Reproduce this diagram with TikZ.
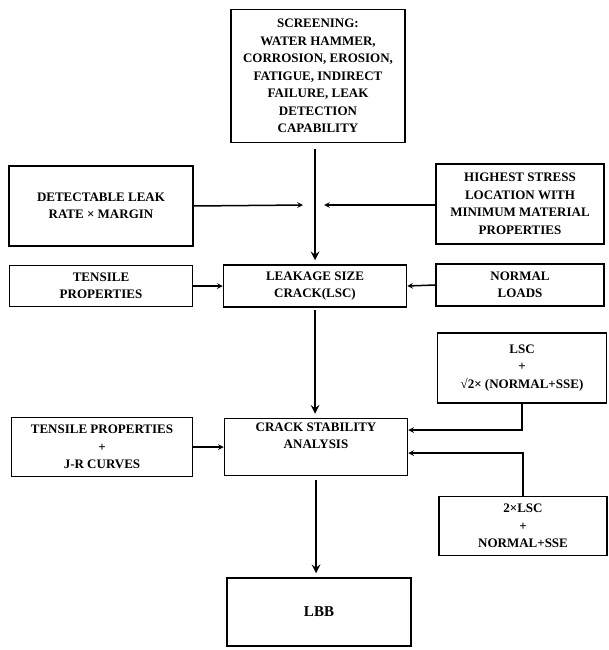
\documentclass[tikz,border=0pt]{standalone}
\usepackage{fontspec}
\setmainfont{Liberation Serif}
\usetikzlibrary{positioning, arrows}

\tikzset{
  box/.style={draw, line width=1.5pt, align=center, inner sep=1pt,
    font=\bfseries\fontsize{13}{17.5}\selectfont},
  flow/.style={->, >=stealth, line width=2.8pt},
  feed/.style={->, >=stealth, line width=1.5pt},
}

\begin{document}
\begin{tikzpicture}[x=1pt, y=-1pt]
  \useasboundingbox (0,0) rectangle (608,650);

  % centre column
  \node[box, minimum width=174pt, minimum height=133pt] (scr) at (318,76)
    {SCREENING:\\WATER HAMMER,\\CORROSION, EROSION,\\FATIGUE, INDIRECT\\FAILURE, LEAK\\DETECTION\\CAPABILITY};
  \node[box, minimum width=183pt, minimum height=42pt] (lsc) at (315,286)
    {LEAKAGE SIZE\\CRACK(LSC)};
  \node[box, minimum width=183pt, minimum height=57pt] (csa) at (316,447)
    {CRACK STABILITY\\ANALYSIS\\[5pt]};
  \node[box, minimum width=184pt, minimum height=68pt] (lbb) at (319,612)
    {\fontsize{15}{18}\selectfont LBB};

  % left column
  \node[box, minimum width=184pt, minimum height=80pt] (leak) at (101,206)
    {DETECTABLE LEAK\\RATE × MARGIN};
  \node[box, minimum width=183pt, minimum height=41pt] (tens) at (101,286)
    {TENSILE\\PROPERTIES};
  \node[box, minimum width=181pt, minimum height=59pt] (jr) at (102,447)
    {TENSILE PROPERTIES\\+\\J-R CURVES};

  % right column
  \node[box, minimum width=168pt, minimum height=80pt] (stress) at (520,204)
    {HIGHEST STRESS\\LOCATION WITH\\MINIMUM MATERIAL\\PROPERTIES};
  \node[box, minimum width=168pt, minimum height=42pt] (nrm) at (520,285)
    {NORMAL\\LOADS};
  \node[box, minimum width=169pt, minimum height=70pt] (sse) at (522,368)
    {LSC\\+\\√2× (NORMAL+SSE)};
  \node[box, minimum width=168pt, minimum height=59pt] (dsse) at (523,526)
    {2×LSC\\+\\NORMAL+SSE};

  \coordinate (inL) at (303,205);
  \coordinate (inR) at (324,205);

  \draw[flow] (scr.south -| lsc.north) ++(0,6) -- ([yshift=4pt]lsc.north);
  \draw[feed] (leak.east) -- (inL);
  \draw[feed] (stress.west |- inR) -- (inR);
  \draw[feed] (tens.east) -- (lsc.west);
  \draw[feed] (nrm.west) -- (lsc.east);
  \draw[flow] ([yshift=-2pt]lsc.south) -- ([yshift=4pt]lsc.south |- csa.north);
  \draw[feed] (jr.east) -- (csa.west);
  \draw[feed] (sse.south) |- ([yshift=17pt]csa.east);
  \draw[feed] (dsse.north) |- ([yshift=-6pt]csa.east);
  \draw[flow] ([yshift=-4pt]csa.south) -- ([yshift=4pt]csa.south |- lbb.north);
\end{tikzpicture}
\end{document}
